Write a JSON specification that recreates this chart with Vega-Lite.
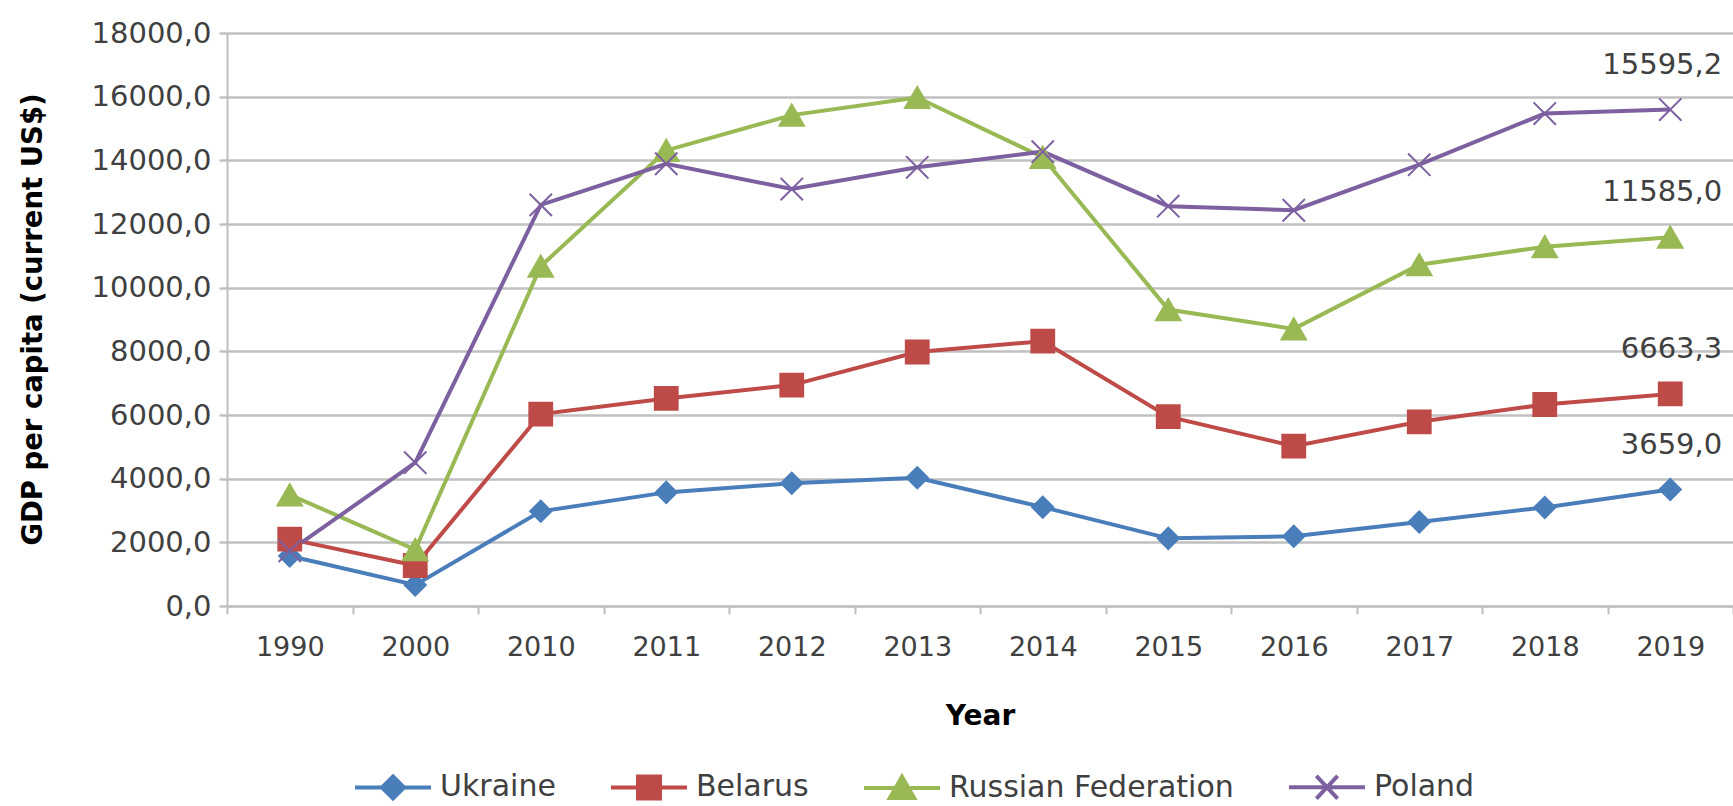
{
  "$schema": "https://vega.github.io/schema/vega-lite/v6.json",
  "width": 1506,
  "height": 573,
  "autosize": {"type": "none"},
  "padding": {"left": 227, "top": 33, "right": 0, "bottom": 200},
  "background": "white",
  "config": {"font": "DejaVu Sans", "view": {"stroke": null}},
  "data": {
    "values": [
      {"Country": "Ukraine", "Year": "1990", "GDP": 1570},
      {"Country": "Ukraine", "Year": "2000", "GDP": 660},
      {"Country": "Ukraine", "Year": "2010", "GDP": 2974},
      {"Country": "Ukraine", "Year": "2011", "GDP": 3569},
      {"Country": "Ukraine", "Year": "2012", "GDP": 3855},
      {"Country": "Ukraine", "Year": "2013", "GDP": 4030},
      {"Country": "Ukraine", "Year": "2014", "GDP": 3105},
      {"Country": "Ukraine", "Year": "2015", "GDP": 2125},
      {"Country": "Ukraine", "Year": "2016", "GDP": 2188},
      {"Country": "Ukraine", "Year": "2017", "GDP": 2640},
      {"Country": "Ukraine", "Year": "2018", "GDP": 3097},
      {"Country": "Ukraine", "Year": "2019", "GDP": 3659.0},
      {"Country": "Belarus", "Year": "1990", "GDP": 2100},
      {"Country": "Belarus", "Year": "2000", "GDP": 1273},
      {"Country": "Belarus", "Year": "2010", "GDP": 6029},
      {"Country": "Belarus", "Year": "2011", "GDP": 6520},
      {"Country": "Belarus", "Year": "2012", "GDP": 6940},
      {"Country": "Belarus", "Year": "2013", "GDP": 7979},
      {"Country": "Belarus", "Year": "2014", "GDP": 8318},
      {"Country": "Belarus", "Year": "2015", "GDP": 5950},
      {"Country": "Belarus", "Year": "2016", "GDP": 5023},
      {"Country": "Belarus", "Year": "2017", "GDP": 5785},
      {"Country": "Belarus", "Year": "2018", "GDP": 6330},
      {"Country": "Belarus", "Year": "2019", "GDP": 6663.3},
      {"Country": "Russian Federation", "Year": "1990", "GDP": 3493},
      {"Country": "Russian Federation", "Year": "2000", "GDP": 1772},
      {"Country": "Russian Federation", "Year": "2010", "GDP": 10675},
      {"Country": "Russian Federation", "Year": "2011", "GDP": 14311},
      {"Country": "Russian Federation", "Year": "2012", "GDP": 15420},
      {"Country": "Russian Federation", "Year": "2013", "GDP": 15974},
      {"Country": "Russian Federation", "Year": "2014", "GDP": 14096},
      {"Country": "Russian Federation", "Year": "2015", "GDP": 9313},
      {"Country": "Russian Federation", "Year": "2016", "GDP": 8705},
      {"Country": "Russian Federation", "Year": "2017", "GDP": 10720},
      {"Country": "Russian Federation", "Year": "2018", "GDP": 11287},
      {"Country": "Russian Federation", "Year": "2019", "GDP": 11585.0},
      {"Country": "Poland", "Year": "1990", "GDP": 1731},
      {"Country": "Poland", "Year": "2000", "GDP": 4501},
      {"Country": "Poland", "Year": "2010", "GDP": 12600},
      {"Country": "Poland", "Year": "2011", "GDP": 13893},
      {"Country": "Poland", "Year": "2012", "GDP": 13098},
      {"Country": "Poland", "Year": "2013", "GDP": 13781},
      {"Country": "Poland", "Year": "2014", "GDP": 14272},
      {"Country": "Poland", "Year": "2015", "GDP": 12560},
      {"Country": "Poland", "Year": "2016", "GDP": 12432},
      {"Country": "Poland", "Year": "2017", "GDP": 13864},
      {"Country": "Poland", "Year": "2018", "GDP": 15469},
      {"Country": "Poland", "Year": "2019", "GDP": 15595.2}
    ]
  },
  "encoding": {
    "x": {
      "field": "Year",
      "type": "ordinal",
      "bandPosition": 0.5,
      "scale": {"type": "band", "paddingInner": 0, "paddingOuter": 0},
      "axis": {
        "title": "Year",
        "titleFontWeight": "bold",
        "titleFontSize": 28,
        "titleColor": "#000000",
        "titleY": 110,
        "titleBaseline": "middle",
        "labelAngle": 0,
        "labelFontSize": 27,
        "labelColor": "#404040",
        "labelPadding": 20,
        "tickBand": "extent",
        "ticks": true,
        "tickSize": 8,
        "tickColor": "#bfbfbf",
        "tickWidth": 2,
        "domainColor": "#bfbfbf",
        "domainWidth": 2,
        "grid": false
      }
    },
    "y": {
      "field": "GDP",
      "type": "quantitative",
      "scale": {"domain": [0, 18000], "nice": false},
      "axis": {
        "title": "GDP per capita (current US$)",
        "values": [0, 2000, 4000, 6000, 8000, 10000, 12000, 14000, 16000, 18000],
        "labelExpr": "replace(format(datum.value, '.1f'), '.', ',')",
        "labelFontSize": 29,
        "labelColor": "#404040",
        "labelPadding": 8,
        "tickSize": 8,
        "tickColor": "#c0c0c0",
        "tickWidth": 2.5,
        "gridColor": "#c0c0c0",
        "gridWidth": 2.5,
        "domainColor": "#bfbfbf",
        "domainWidth": 2,
        "titleFontSize": 27.5,
        "titleFontWeight": "bold",
        "titleColor": "#000000",
        "titleX": -194,
        "titleY": 286,
        "titleAngle": 270,
        "titleAlign": "center",
        "titleBaseline": "middle"
      }
    },
    "color": {
      "field": "Country",
      "type": "nominal",
      "scale": {
        "domain": ["Ukraine", "Belarus", "Russian Federation", "Poland"],
        "range": ["#4a7ebb", "#be4b48", "#98b954", "#7d60a0"]
      },
      "legend": {
        "orient": "none",
        "legendX": 126,
        "legendY": 714,
        "direction": "horizontal",
        "title": null,
        "symbolType": "M-1,0H1M0,-0.29L0.29,0L0,0.29L-0.29,0Z",
        "symbolSize": 5776,
        "symbolStrokeWidth": 4,
        "labelFontSize": 30,
        "labelColor": "#404040",
        "labelLimit": 500,
        "labelOffset": 7,
        "columnPadding": 47,
        "encode": {
          "symbols": {
            "update": {
              "shape": {"signal": "datum.value == 'Ukraine' ? 'M-1,0H1M0,-0.29L0.29,0L0,0.29L-0.29,0Z' : datum.value == 'Belarus' ? 'M-1,0H1M-0.29,-0.29H0.29V0.29H-0.29Z' : datum.value == 'Russian Federation' ? 'M-1,0H1M0,-0.3L0.32,0.26H-0.32Z' : 'M-1,0H1M-0.28,-0.3L0.28,0.3M0.28,-0.3L-0.28,0.3'"},
              "size": {"value": 5776},
              "fill": {"scale": "color", "field": "value"},
              "stroke": {"scale": "color", "field": "value"},
              "strokeWidth": {"value": 4},
              "opacity": {"value": 1},
              "fillOpacity": {"value": 1},
              "strokeOpacity": {"value": 1}
            }
          }
        }
      }
    }
  },
  "layer": [
    {"mark": {"type": "line", "strokeWidth": 4}},
    {
      "transform": [{"filter": "datum.Country == 'Ukraine'"}],
      "mark": {"type": "point", "shape": "diamond", "size": 450, "filled": true, "opacity": 1, "strokeWidth": 2, "stroke": "#4a7ebb"}
    },
    {
      "transform": [{"filter": "datum.Country == 'Belarus'"}],
      "mark": {"type": "point", "shape": "square", "size": 520, "filled": true, "opacity": 1, "strokeWidth": 2, "stroke": "#be4b48"}
    },
    {
      "transform": [{"filter": "datum.Country == 'Russian Federation'"}],
      "mark": {"type": "point", "shape": "triangle-up", "size": 600, "filled": true, "opacity": 1, "strokeWidth": 2, "stroke": "#98b954"}
    },
    {
      "transform": [{"filter": "datum.Country == 'Poland'"}],
      "mark": {"type": "point", "shape": "M-1,-1L1,1M-1,1L1,-1", "size": 500, "filled": false, "opacity": 1, "strokeWidth": 2}
    },
    {
      "transform": [
        {"filter": "datum.Year == '2019'"},
        {"calculate": "replace(format(datum.GDP, '.1f'), '.', ',')", "as": "label"}
      ],
      "mark": {"type": "text", "align": "right", "baseline": "middle", "dx": 52, "dy": -45, "fontSize": 29},
      "encoding": {
        "text": {"field": "label", "type": "nominal"},
        "color": {"value": "#404040"}
      }
    }
  ]
}
